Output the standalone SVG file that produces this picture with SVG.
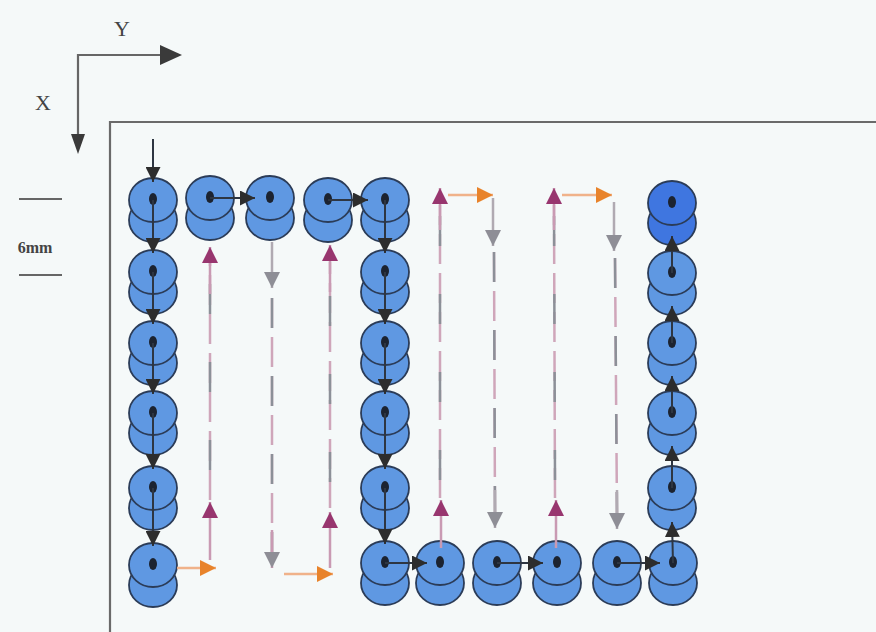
<svg xmlns="http://www.w3.org/2000/svg" xmlns:xlink="http://www.w3.org/1999/xlink" width="876" height="632" viewBox="0 0 876 632">
<style>
.lbl{font-family:"Liberation Serif","Times New Roman",serif;fill:#444;}
.frame{stroke:#6a6a6a;stroke-width:2.2;fill:none;}
.axis{stroke:#666;stroke-width:2.2;fill:none;}
.dk{stroke:#2e3642;stroke-width:2;fill:none;}
.or{stroke:#f0b28a;stroke-width:2.5;fill:none;}
.pk{stroke:#c99ab3;stroke-width:2.5;fill:none;}
.gy{stroke:#b0aab2;stroke-width:2.5;fill:none;}
.dp{stroke:#cfa6ba;stroke-width:2.5;fill:none;stroke-dasharray:30 9;}
.dg{stroke:#8c9098;stroke-width:2.5;fill:none;stroke-dasharray:30 48;}
.disc{fill:#5f98e2;stroke:#2b3c58;stroke-width:1.8;}
.disc2{fill:#3f76e0;stroke:#2b3c58;stroke-width:1.8;}
.dot{fill:#1c2330;}
</style>
<defs>
<marker id="mdk" viewBox="0 0 10 10" refX="10" refY="5" markerWidth="15" markerHeight="15" markerUnits="userSpaceOnUse" orient="auto"><path d="M0,0 L10,5 L0,10 z" fill="#2d2d2d"/></marker>
<marker id="mpu" viewBox="0 0 10 10" refX="10" refY="5" markerWidth="16" markerHeight="17" markerUnits="userSpaceOnUse" orient="auto"><path d="M0,0 L10,5 L0,10 z" fill="#98366f"/></marker>
<marker id="mgy" viewBox="0 0 10 10" refX="10" refY="5" markerWidth="16" markerHeight="17" markerUnits="userSpaceOnUse" orient="auto"><path d="M0,0 L10,5 L0,10 z" fill="#8e8e96"/></marker>
<marker id="mor" viewBox="0 0 10 10" refX="10" refY="5" markerWidth="16" markerHeight="17" markerUnits="userSpaceOnUse" orient="auto"><path d="M0,0 L10,5 L0,10 z" fill="#e8832b"/></marker>
<g id="node"><ellipse class="disc" cx="0" cy="20" rx="24" ry="22"/><ellipse class="disc" cx="0" cy="0" rx="24" ry="22"/><ellipse class="dot" cx="0" cy="-1" rx="4" ry="6"/></g>
<g id="nodeEnd"><ellipse class="disc2" cx="0" cy="20" rx="24" ry="22"/><ellipse class="disc2" cx="0" cy="0" rx="24" ry="22"/><ellipse class="dot" cx="0" cy="-1" rx="4" ry="6"/></g>
</defs>
<rect width="876" height="632" fill="#f5f9f9"/>

<g id="axes">
<polyline class="axis" points="160,55 78,55 78,138"/>
<path d="M160,45 L182,55 L160,65 z" fill="#3a3a3a"/>
<path d="M71,134 L78,154 L85,134 z" fill="#3a3a3a"/>
<text class="lbl" x="122" y="36" font-size="22" text-anchor="middle">Y</text>
<text class="lbl" x="43" y="110" font-size="22" text-anchor="middle">X</text>
</g>
<g id="frame"><polyline class="frame" points="110,632 110,122 876,122"/></g>
<g id="scale">
<line x1="19" y1="199" x2="62" y2="199" stroke="#666" stroke-width="2"/>
<line x1="19" y1="275" x2="62" y2="275" stroke="#666" stroke-width="2"/>
<text class="lbl" x="35" y="253" font-size="16" font-weight="bold" text-anchor="middle">6mm</text>
</g>

<g id="nodes">
<g id="c1r1"><use xlink:href="#node" x="153" y="200"/></g>
<g id="c1r2"><use xlink:href="#node" x="153" y="272"/></g>
<g id="c1r3"><use xlink:href="#node" x="153" y="343"/></g>
<g id="c1r4"><use xlink:href="#node" x="153" y="413"/></g>
<g id="c1r5"><use xlink:href="#node" x="153" y="488"/></g>
<g id="c1r6"><use xlink:href="#node" x="153" y="565"/></g>
<g id="c2r1"><use xlink:href="#node" x="210" y="198"/></g>
<g id="c3r1"><use xlink:href="#node" x="270" y="198"/></g>
<g id="c4r1"><use xlink:href="#node" x="328" y="200"/></g>
<g id="c5r1"><use xlink:href="#node" x="385" y="200"/></g>
<g id="c5r2"><use xlink:href="#node" x="385" y="272"/></g>
<g id="c5r3"><use xlink:href="#node" x="385" y="343"/></g>
<g id="c5r4"><use xlink:href="#node" x="385" y="413"/></g>
<g id="c5r5"><use xlink:href="#node" x="385" y="488"/></g>
<g id="c5r6"><use xlink:href="#node" x="385" y="563"/></g>
<g id="b1"><use xlink:href="#node" x="440" y="563"/></g>
<g id="b2"><use xlink:href="#node" x="497" y="563"/></g>
<g id="b3"><use xlink:href="#node" x="557" y="563"/></g>
<g id="b4"><use xlink:href="#node" x="617" y="563"/></g>
<g id="r6"><use xlink:href="#node" x="673" y="563"/></g>
<g id="r5"><use xlink:href="#node" x="672" y="488"/></g>
<g id="r4"><use xlink:href="#node" x="672" y="413"/></g>
<g id="r3"><use xlink:href="#node" x="672" y="343"/></g>
<g id="r2"><use xlink:href="#node" x="672" y="273"/></g>
<g id="r1"><use xlink:href="#nodeEnd" x="672" y="203"/></g>
</g>

<g id="connectors">
<line class="dk" x1="153" y1="139" x2="153" y2="182" marker-end="url(#mdk)"/>
<line class="dk" x1="153" y1="200" x2="153" y2="253" marker-end="url(#mdk)"/>
<line class="dk" x1="153" y1="272" x2="153" y2="324" marker-end="url(#mdk)"/>
<line class="dk" x1="153" y1="343" x2="153" y2="394" marker-end="url(#mdk)"/>
<line class="dk" x1="153" y1="413" x2="153" y2="469" marker-end="url(#mdk)"/>
<line class="dk" x1="153" y1="488" x2="153" y2="546" marker-end="url(#mdk)"/>
<line class="dk" x1="210" y1="198" x2="255" y2="198" marker-end="url(#mdk)"/>
<line class="dk" x1="328" y1="200" x2="368" y2="200" marker-end="url(#mdk)"/>
<line class="dk" x1="385" y1="200" x2="385" y2="253" marker-end="url(#mdk)"/>
<line class="dk" x1="385" y1="272" x2="385" y2="324" marker-end="url(#mdk)"/>
<line class="dk" x1="385" y1="343" x2="385" y2="394" marker-end="url(#mdk)"/>
<line class="dk" x1="385" y1="413" x2="385" y2="469" marker-end="url(#mdk)"/>
<line class="dk" x1="385" y1="488" x2="385" y2="544" marker-end="url(#mdk)"/>
<line class="dk" x1="385" y1="563" x2="427" y2="563" marker-end="url(#mdk)"/>
<line class="dk" x1="497" y1="563" x2="543" y2="563" marker-end="url(#mdk)"/>
<line class="dk" x1="617" y1="563" x2="660" y2="563" marker-end="url(#mdk)"/>
<line class="dk" x1="673" y1="563" x2="672" y2="522" marker-end="url(#mdk)"/>
<line class="dk" x1="672" y1="488" x2="672" y2="446" marker-end="url(#mdk)"/>
<line class="dk" x1="672" y1="413" x2="672" y2="376" marker-end="url(#mdk)"/>
<line class="dk" x1="672" y1="343" x2="672" y2="306" marker-end="url(#mdk)"/>
<line class="dk" x1="672" y1="273" x2="672" y2="236" marker-end="url(#mdk)"/>

<line class="or" x1="177" y1="568" x2="216" y2="568" marker-end="url(#mor)"/>
<line class="pk" x1="210" y1="560" x2="210" y2="502" marker-end="url(#mpu)"/>
<line class="dp" x1="210" y1="500" x2="210" y2="262"/>
<line class="dg" x1="210" y1="470" x2="210" y2="262"/>
<line class="pk" x1="210" y1="294" x2="210" y2="247" marker-end="url(#mpu)"/>

<line class="gy" x1="272" y1="242" x2="272" y2="288" marker-end="url(#mgy)"/>
<line class="dp" x1="272" y1="298" x2="272" y2="552"/>
<line class="dg" x1="272" y1="298" x2="272" y2="552"/>
<line class="pk" x1="272" y1="530" x2="272" y2="568" marker-end="url(#mgy)"/>
<line class="or" x1="284" y1="574" x2="333" y2="574" marker-end="url(#mor)"/>

<line class="pk" x1="330" y1="568" x2="330" y2="512" marker-end="url(#mpu)"/>
<line class="dp" x1="330" y1="508" x2="330" y2="262"/>
<line class="dg" x1="330" y1="482" x2="330" y2="262"/>
<line class="pk" x1="330" y1="292" x2="330" y2="245" marker-end="url(#mpu)"/>

<line class="pk" x1="441" y1="548" x2="441" y2="500" marker-end="url(#mpu)"/>
<line class="dp" x1="440" y1="498" x2="440" y2="205"/>
<line class="dg" x1="440" y1="480" x2="440" y2="205"/>
<line class="pk" x1="440" y1="230" x2="440" y2="188" marker-end="url(#mpu)"/>
<line class="or" x1="448" y1="195" x2="493" y2="195" marker-end="url(#mor)"/>

<line class="gy" x1="493" y1="198" x2="493" y2="246" marker-end="url(#mgy)"/>
<line class="dp" x1="494" y1="252" x2="495" y2="515"/>
<line class="dg" x1="494" y1="252" x2="495" y2="515"/>
<line class="gy" x1="495" y1="490" x2="495" y2="528" marker-end="url(#mgy)"/>

<line class="pk" x1="556" y1="548" x2="556" y2="500" marker-end="url(#mpu)"/>
<line class="dp" x1="555" y1="498" x2="554" y2="205"/>
<line class="dg" x1="555" y1="480" x2="554" y2="205"/>
<line class="pk" x1="554" y1="230" x2="554" y2="188" marker-end="url(#mpu)"/>
<line class="or" x1="562" y1="195" x2="612" y2="195" marker-end="url(#mor)"/>

<line class="gy" x1="614" y1="202" x2="614" y2="251" marker-end="url(#mgy)"/>
<line class="dp" x1="615" y1="258" x2="617" y2="515"/>
<line class="dg" x1="615" y1="258" x2="617" y2="515"/>
<line class="gy" x1="617" y1="490" x2="617" y2="529" marker-end="url(#mgy)"/>
</g>
</svg>
